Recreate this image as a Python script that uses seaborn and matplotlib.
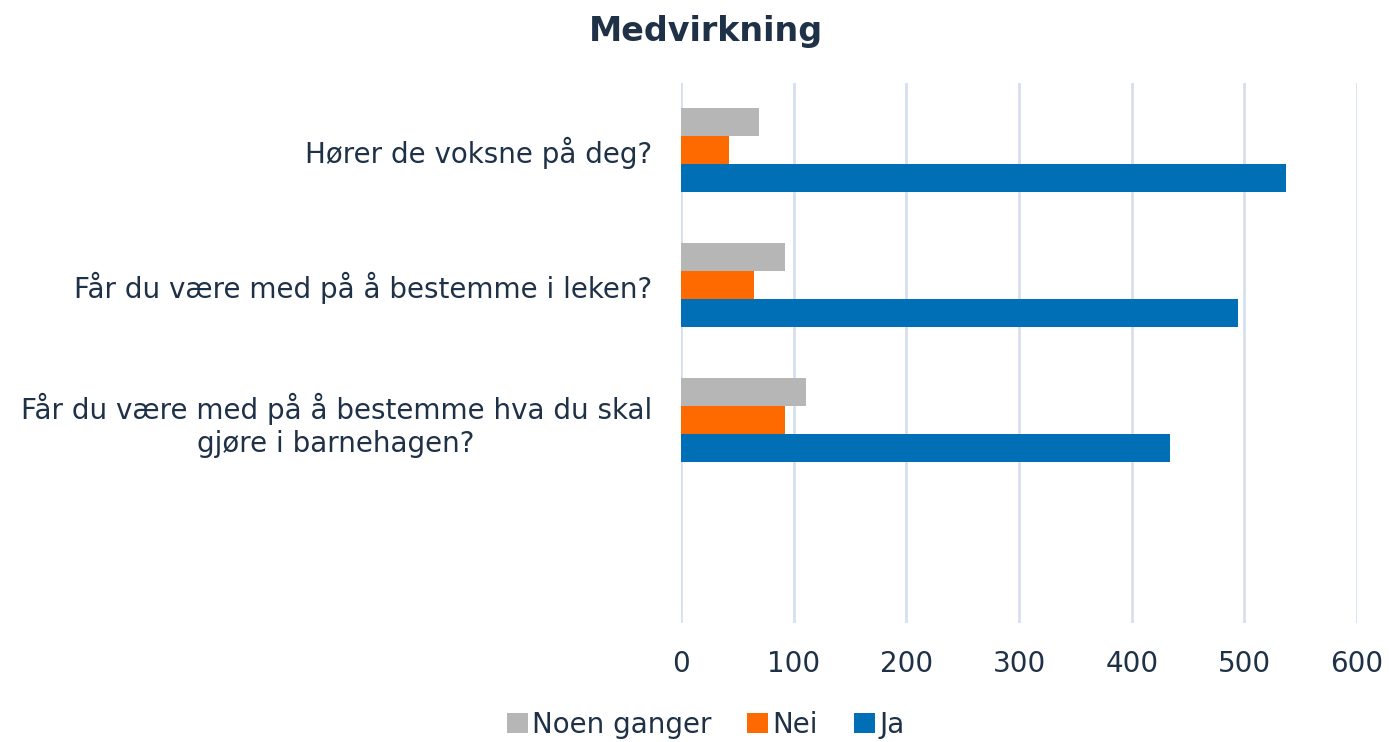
import pandas as pd
import matplotlib.pyplot as plt
import seaborn as sns

sns.set_theme(style="white")
plt.rcParams["font.family"] = ["DejaVu Sans"]

# Data
sporsmal = [
    "Hører de voksne på deg?",
    "Får du være med på å bestemme i leken?",
    "Får du være med på å bestemme hva du skal\ngjøre i barnehagen?",
]
noen_ganger = [69, 92, 111]
nei = [43, 65, 92]
ja = [537, 494, 434]
serier = ["Noen ganger", "Nei", "Ja"]
farger = ["#B6B6B6", "#FF6A00", "#006FB6"]

df = pd.DataFrame({
    "sporsmal": sporsmal * 3,
    "svar": ["Noen ganger"] * 3 + ["Nei"] * 3 + ["Ja"] * 3,
    "antall": noen_ganger + nei + ja,
})

tekst = "#1F3147"
grid = "#D6E0EC"

fig = plt.figure(figsize=(13.89, 7.42), dpi=100)
ax = fig.add_axes([0.4903, 0.161, 0.977 - 0.4903, 0.8888 - 0.161])

sns.barplot(
    data=df, y="sporsmal", x="antall", hue="svar",
    order=sporsmal, hue_order=serier, palette=farger,
    width=0.62, saturation=1, orient="h", ax=ax, legend=True,
    linewidth=0,
)

ax.set_xlim(0, 600)
ax.set_ylim(3.5, -0.5)
ax.set_xticks(range(0, 601, 100))
ax.xaxis.grid(True, color=grid, linewidth=2)
ax.yaxis.grid(False)
ax.set_axisbelow(True)
for s in ax.spines.values():
    s.set_visible(False)
ax.set_xlabel("")
ax.set_ylabel("")
ax.tick_params(axis="x", length=0, pad=20, labelsize=20, labelcolor=tekst)
ax.tick_params(axis="y", length=0, pad=21, labelsize=20, labelcolor=tekst)
for lbl in ax.get_yticklabels():
    lbl.set_multialignment("center")

fig.suptitle("Medvirkning", x=0.508, y=0.98, fontsize=24, fontweight="bold", color=tekst)

handles, labels = ax.get_legend_handles_labels()
ax.legend_.remove()
fig.legend(
    handles, labels, loc="lower center", bbox_to_anchor=(0.508, -0.029),
    ncol=3, frameon=False, fontsize=20, labelcolor=tekst,
    handlelength=0.75, handleheight=0.75, handletextpad=0.15, columnspacing=1.3,
)

plt.savefig("out.png", dpi=100)
plt.close()
